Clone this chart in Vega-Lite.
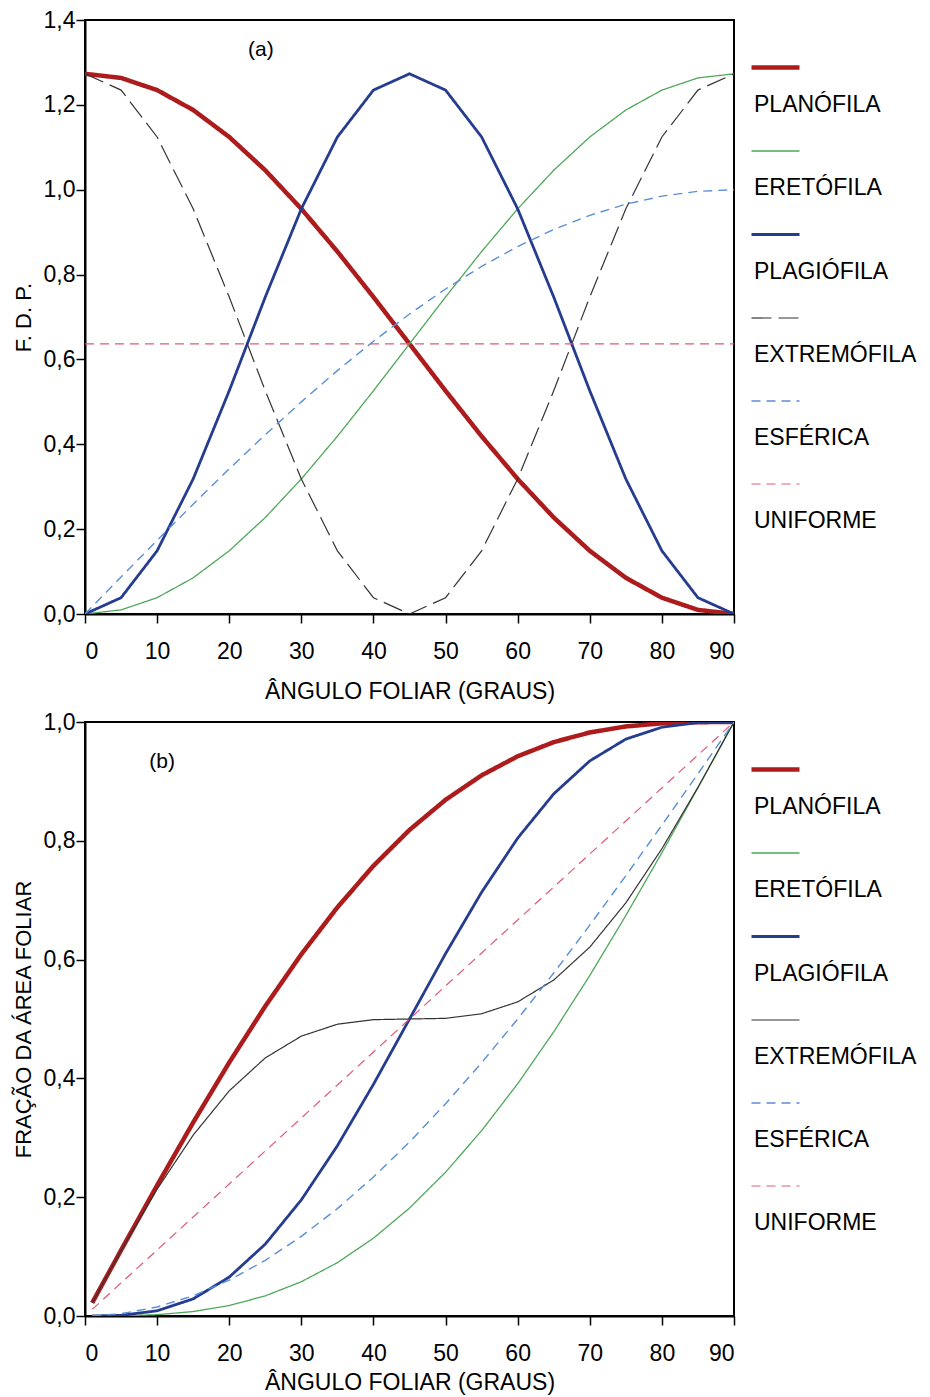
{
  "$schema": "https://vega.github.io/schema/vega-lite/v6.json",
  "background": "white",
  "padding": {"left": 11, "top": 8, "right": 5, "bottom": 0},
  "datasets": {
    "fdp": [
      {"angulo": 0, "PLANÓFILA": 1.2732, "ERETÓFILA": 0, "PLAGIÓFILA": 0, "EXTREMÓFILA": 1.2732, "ESFÉRICA": 0, "UNIFORME": 0.6366},
      {"angulo": 5, "PLANÓFILA": 1.2635, "ERETÓFILA": 0.0097, "PLAGIÓFILA": 0.0384, "EXTREMÓFILA": 1.2348, "ESFÉRICA": 0.0872, "UNIFORME": 0.6366},
      {"angulo": 10, "PLANÓFILA": 1.2348, "ERETÓFILA": 0.0384, "PLAGIÓFILA": 0.1489, "EXTREMÓFILA": 1.1243, "ESFÉRICA": 0.1736, "UNIFORME": 0.6366},
      {"angulo": 15, "PLANÓFILA": 1.1879, "ERETÓFILA": 0.0853, "PLAGIÓFILA": 0.3183, "EXTREMÓFILA": 0.9549, "ESFÉRICA": 0.2588, "UNIFORME": 0.6366},
      {"angulo": 20, "PLANÓFILA": 1.1243, "ERETÓFILA": 0.1489, "PLAGIÓFILA": 0.5261, "EXTREMÓFILA": 0.7471, "ESFÉRICA": 0.342, "UNIFORME": 0.6366},
      {"angulo": 25, "PLANÓFILA": 1.0458, "ERETÓFILA": 0.2274, "PLAGIÓFILA": 0.7471, "EXTREMÓFILA": 0.5261, "ESFÉRICA": 0.4226, "UNIFORME": 0.6366},
      {"angulo": 30, "PLANÓFILA": 0.9549, "ERETÓFILA": 0.3183, "PLAGIÓFILA": 0.9549, "EXTREMÓFILA": 0.3183, "ESFÉRICA": 0.5, "UNIFORME": 0.6366},
      {"angulo": 35, "PLANÓFILA": 0.8543, "ERETÓFILA": 0.4189, "PLAGIÓFILA": 1.1243, "EXTREMÓFILA": 0.1489, "ESFÉRICA": 0.5736, "UNIFORME": 0.6366},
      {"angulo": 40, "PLANÓFILA": 0.7471, "ERETÓFILA": 0.5261, "PLAGIÓFILA": 1.2348, "EXTREMÓFILA": 0.0384, "ESFÉRICA": 0.6428, "UNIFORME": 0.6366},
      {"angulo": 45, "PLANÓFILA": 0.6366, "ERETÓFILA": 0.6366, "PLAGIÓFILA": 1.2732, "EXTREMÓFILA": 0, "ESFÉRICA": 0.7071, "UNIFORME": 0.6366},
      {"angulo": 50, "PLANÓFILA": 0.5261, "ERETÓFILA": 0.7471, "PLAGIÓFILA": 1.2348, "EXTREMÓFILA": 0.0384, "ESFÉRICA": 0.766, "UNIFORME": 0.6366},
      {"angulo": 55, "PLANÓFILA": 0.4189, "ERETÓFILA": 0.8543, "PLAGIÓFILA": 1.1243, "EXTREMÓFILA": 0.1489, "ESFÉRICA": 0.8192, "UNIFORME": 0.6366},
      {"angulo": 60, "PLANÓFILA": 0.3183, "ERETÓFILA": 0.9549, "PLAGIÓFILA": 0.9549, "EXTREMÓFILA": 0.3183, "ESFÉRICA": 0.866, "UNIFORME": 0.6366},
      {"angulo": 65, "PLANÓFILA": 0.2274, "ERETÓFILA": 1.0458, "PLAGIÓFILA": 0.7471, "EXTREMÓFILA": 0.5261, "ESFÉRICA": 0.9063, "UNIFORME": 0.6366},
      {"angulo": 70, "PLANÓFILA": 0.1489, "ERETÓFILA": 1.1243, "PLAGIÓFILA": 0.5261, "EXTREMÓFILA": 0.7471, "ESFÉRICA": 0.9397, "UNIFORME": 0.6366},
      {"angulo": 75, "PLANÓFILA": 0.0853, "ERETÓFILA": 1.1879, "PLAGIÓFILA": 0.3183, "EXTREMÓFILA": 0.9549, "ESFÉRICA": 0.9659, "UNIFORME": 0.6366},
      {"angulo": 80, "PLANÓFILA": 0.0384, "ERETÓFILA": 1.2348, "PLAGIÓFILA": 0.1489, "EXTREMÓFILA": 1.1243, "ESFÉRICA": 0.9848, "UNIFORME": 0.6366},
      {"angulo": 85, "PLANÓFILA": 0.0097, "ERETÓFILA": 1.2635, "PLAGIÓFILA": 0.0384, "EXTREMÓFILA": 1.2348, "ESFÉRICA": 0.9962, "UNIFORME": 0.6366},
      {"angulo": 90, "PLANÓFILA": 0, "ERETÓFILA": 1.2732, "PLAGIÓFILA": 0, "EXTREMÓFILA": 1.2732, "ESFÉRICA": 1, "UNIFORME": 0.6366}
    ],
    "fracao": [
      {"angulo": 1, "PLANÓFILA": 0.0222, "ERETÓFILA": 0, "PLAGIÓFILA": 0, "EXTREMÓFILA": 0.0222, "ESFÉRICA": 0.0002, "UNIFORME": 0.0111},
      {"angulo": 5, "PLANÓFILA": 0.1108, "ERETÓFILA": 0.0003, "PLAGIÓFILA": 0.0011, "EXTREMÓFILA": 0.11, "ESFÉRICA": 0.0038, "UNIFORME": 0.0556},
      {"angulo": 10, "PLANÓFILA": 0.22, "ERETÓFILA": 0.0022, "PLAGIÓFILA": 0.0088, "EXTREMÓFILA": 0.2134, "ESFÉRICA": 0.0152, "UNIFORME": 0.1111},
      {"angulo": 15, "PLANÓFILA": 0.3258, "ERETÓFILA": 0.0075, "PLAGIÓFILA": 0.0288, "EXTREMÓFILA": 0.3045, "ESFÉRICA": 0.0341, "UNIFORME": 0.1667},
      {"angulo": 20, "PLANÓFILA": 0.4268, "ERETÓFILA": 0.0176, "PLAGIÓFILA": 0.0655, "EXTREMÓFILA": 0.379, "ESFÉRICA": 0.0603, "UNIFORME": 0.2222},
      {"angulo": 25, "PLANÓFILA": 0.5216, "ERETÓFILA": 0.0339, "PLAGIÓFILA": 0.121, "EXTREMÓFILA": 0.4345, "ESFÉRICA": 0.0937, "UNIFORME": 0.2778},
      {"angulo": 30, "PLANÓFILA": 0.609, "ERETÓFILA": 0.0577, "PLAGIÓFILA": 0.1955, "EXTREMÓFILA": 0.4712, "ESFÉRICA": 0.134, "UNIFORME": 0.3333},
      {"angulo": 35, "PLANÓFILA": 0.688, "ERETÓFILA": 0.0898, "PLAGIÓFILA": 0.2866, "EXTREMÓFILA": 0.4912, "ESFÉRICA": 0.1808, "UNIFORME": 0.3889},
      {"angulo": 40, "PLANÓFILA": 0.7579, "ERETÓFILA": 0.131, "PLAGIÓFILA": 0.39, "EXTREMÓFILA": 0.4989, "ESFÉRICA": 0.234, "UNIFORME": 0.4444},
      {"angulo": 45, "PLANÓFILA": 0.8183, "ERETÓFILA": 0.1817, "PLAGIÓFILA": 0.5, "EXTREMÓFILA": 0.5, "ESFÉRICA": 0.2929, "UNIFORME": 0.5},
      {"angulo": 50, "PLANÓFILA": 0.869, "ERETÓFILA": 0.2421, "PLAGIÓFILA": 0.61, "EXTREMÓFILA": 0.5011, "ESFÉRICA": 0.3572, "UNIFORME": 0.5556},
      {"angulo": 55, "PLANÓFILA": 0.9102, "ERETÓFILA": 0.312, "PLAGIÓFILA": 0.7134, "EXTREMÓFILA": 0.5088, "ESFÉRICA": 0.4264, "UNIFORME": 0.6111},
      {"angulo": 60, "PLANÓFILA": 0.9423, "ERETÓFILA": 0.391, "PLAGIÓFILA": 0.8045, "EXTREMÓFILA": 0.5288, "ESFÉRICA": 0.5, "UNIFORME": 0.6667},
      {"angulo": 65, "PLANÓFILA": 0.9661, "ERETÓFILA": 0.4784, "PLAGIÓFILA": 0.879, "EXTREMÓFILA": 0.5655, "ESFÉRICA": 0.5774, "UNIFORME": 0.7222},
      {"angulo": 70, "PLANÓFILA": 0.9824, "ERETÓFILA": 0.5732, "PLAGIÓFILA": 0.9345, "EXTREMÓFILA": 0.621, "ESFÉRICA": 0.658, "UNIFORME": 0.7778},
      {"angulo": 75, "PLANÓFILA": 0.9925, "ERETÓFILA": 0.6742, "PLAGIÓFILA": 0.9712, "EXTREMÓFILA": 0.6955, "ESFÉRICA": 0.7412, "UNIFORME": 0.8333},
      {"angulo": 80, "PLANÓFILA": 0.9978, "ERETÓFILA": 0.78, "PLAGIÓFILA": 0.9912, "EXTREMÓFILA": 0.7866, "ESFÉRICA": 0.8264, "UNIFORME": 0.8889},
      {"angulo": 85, "PLANÓFILA": 0.9997, "ERETÓFILA": 0.8892, "PLAGIÓFILA": 0.9989, "EXTREMÓFILA": 0.89, "ESFÉRICA": 0.9128, "UNIFORME": 0.9444},
      {"angulo": 90, "PLANÓFILA": 1, "ERETÓFILA": 1, "PLAGIÓFILA": 1, "EXTREMÓFILA": 1, "ESFÉRICA": 1, "UNIFORME": 1}
    ]
  },
  "spacing": 6,
  "resolve": {
    "scale": {"color": "independent", "strokeDash": "independent", "strokeWidth": "independent", "x": "independent", "y": "independent"},
    "legend": {"color": "independent", "strokeDash": "independent", "strokeWidth": "independent"}
  },
  "vconcat": [
    {
      "width": 649,
      "height": 594,
      "layer": [
        {
          "data": {"name": "fdp"},
          "transform": [{"fold": ["PLANÓFILA", "ERETÓFILA", "PLAGIÓFILA", "EXTREMÓFILA", "ESFÉRICA", "UNIFORME"], "as": ["tipo", "valor"]}],
          "mark": {"type": "line", "clip": true},
          "encoding": {
            "x": {"field": "angulo", "type": "quantitative", "scale": {"domain": [0, 90], "nice": false}, "axis": {"values": [0, 10, 20, 30, 40, 50, 60, 70, 80, 90], "title": "ÂNGULO FOLIAR (GRAUS)", "titlePadding": 17}},
            "y": {"field": "valor", "type": "quantitative", "scale": {"domain": [0, 1.4], "nice": false}, "axis": {"values": [0, 0.2, 0.4, 0.6, 0.8, 1.0, 1.2, 1.4], "title": "F. D. P.", "labelExpr": "replace(format(datum.value, '.1f'), '.', ',')"}},
            "color": {"field": "tipo", "type": "nominal", "scale": {"domain": ["PLANÓFILA", "ERETÓFILA", "PLAGIÓFILA", "EXTREMÓFILA", "ESFÉRICA", "UNIFORME"], "range": ["#ad1c1c", "#4fa85a", "#263c8f", "#333333", "#5a8fd8", "#e05a78"]}, "legend": {"title": null, "encoding": {"labels": {"dy": {"value": 26}}}}},
            "strokeDash": {"field": "tipo", "type": "nominal", "scale": {"domain": ["PLANÓFILA", "ERETÓFILA", "PLAGIÓFILA", "EXTREMÓFILA", "ESFÉRICA", "UNIFORME"], "range": [[1, 0], [1, 0], [1, 0], [20, 7], [9, 6], [9, 6]]}, "legend": {"title": null, "encoding": {"labels": {"dy": {"value": 26}}}}},
            "strokeWidth": {"field": "tipo", "type": "nominal", "scale": {"type": "ordinal", "domain": ["PLANÓFILA", "ERETÓFILA", "PLAGIÓFILA", "EXTREMÓFILA", "ESFÉRICA", "UNIFORME"], "range": [4.5, 1.3, 2.8, 1.2, 1.4, 1.2]}, "legend": {"title": null, "encoding": {"labels": {"dy": {"value": 26}}}}}
          }
        },
        {
          "data": {"values": [{}]},
          "mark": {"type": "text", "fontSize": 21, "font": "Liberation Sans", "color": "black"},
          "encoding": {
            "x": {"datum": 24.4, "type": "quantitative"},
            "y": {"datum": 1.33, "type": "quantitative"},
            "text": {"value": "(a)"}
          }
        }
      ]
    },
    {
      "width": 649,
      "height": 594,
      "layer": [
        {
          "data": {"name": "fracao"},
          "transform": [{"fold": ["PLANÓFILA", "ERETÓFILA", "PLAGIÓFILA", "EXTREMÓFILA", "ESFÉRICA", "UNIFORME"], "as": ["tipo", "valor"]}],
          "mark": {"type": "line", "clip": true},
          "encoding": {
            "x": {"field": "angulo", "type": "quantitative", "scale": {"domain": [0, 90], "nice": false}, "axis": {"values": [0, 10, 20, 30, 40, 50, 60, 70, 80, 90], "title": "ÂNGULO FOLIAR (GRAUS)", "titlePadding": 6}},
            "y": {"field": "valor", "type": "quantitative", "scale": {"domain": [0, 1], "nice": false}, "axis": {"values": [0, 0.2, 0.4, 0.6, 0.8, 1.0], "title": "FRAÇÃO DA ÁREA FOLIAR", "labelExpr": "replace(format(datum.value, '.1f'), '.', ',')"}},
            "color": {"field": "tipo", "type": "nominal", "scale": {"domain": ["PLANÓFILA", "ERETÓFILA", "PLAGIÓFILA", "EXTREMÓFILA", "ESFÉRICA", "UNIFORME"], "range": ["#ad1c1c", "#4fa85a", "#263c8f", "#333333", "#5a8fd8", "#e05a78"]}, "legend": {"title": null, "encoding": {"labels": {"dy": {"value": 26}}}}},
            "strokeDash": {"field": "tipo", "type": "nominal", "scale": {"domain": ["PLANÓFILA", "ERETÓFILA", "PLAGIÓFILA", "EXTREMÓFILA", "ESFÉRICA", "UNIFORME"], "range": [[1, 0], [1, 0], [1, 0], [1, 0], [9, 6], [9, 6]]}, "legend": {"title": null, "encoding": {"labels": {"dy": {"value": 26}}}}},
            "strokeWidth": {"field": "tipo", "type": "nominal", "scale": {"type": "ordinal", "domain": ["PLANÓFILA", "ERETÓFILA", "PLAGIÓFILA", "EXTREMÓFILA", "ESFÉRICA", "UNIFORME"], "range": [4.5, 1.3, 2.8, 1.2, 1.4, 1.2]}, "legend": {"title": null, "encoding": {"labels": {"dy": {"value": 26}}}}}
          }
        },
        {
          "data": {"values": [{}]},
          "mark": {"type": "text", "fontSize": 21, "font": "Liberation Sans", "color": "black"},
          "encoding": {
            "x": {"datum": 10.7, "type": "quantitative"},
            "y": {"datum": 0.933, "type": "quantitative"},
            "text": {"value": "(b)"}
          }
        }
      ]
    }
  ],
  "config": {
    "font": "Liberation Sans",
    "view": {"stroke": "black", "strokeWidth": 2},
    "axis": {"grid": false, "domainColor": "black", "domainWidth": 2, "tickColor": "black", "tickWidth": 1.5, "tickSize": 9, "labelFont": "Liberation Sans", "labelFontSize": 23, "labelColor": "black", "titleFont": "Liberation Sans", "titleFontSize": 23, "titleFontWeight": "normal", "titleColor": "black"},
    "axisX": {"labelPadding": 17},
    "axisY": {"labelPadding": 1, "titlePadding": 8, "titleFontSize": 22},
    "legend": {"orient": "right", "offset": -6, "padding": 21, "symbolType": "stroke", "symbolSize": 2304, "labelFont": "Liberation Sans", "labelFontSize": 23, "labelColor": "black", "labelLimit": 300, "labelOffset": -48, "labelBaseline": "top", "rowPadding": 9}
  }
}
